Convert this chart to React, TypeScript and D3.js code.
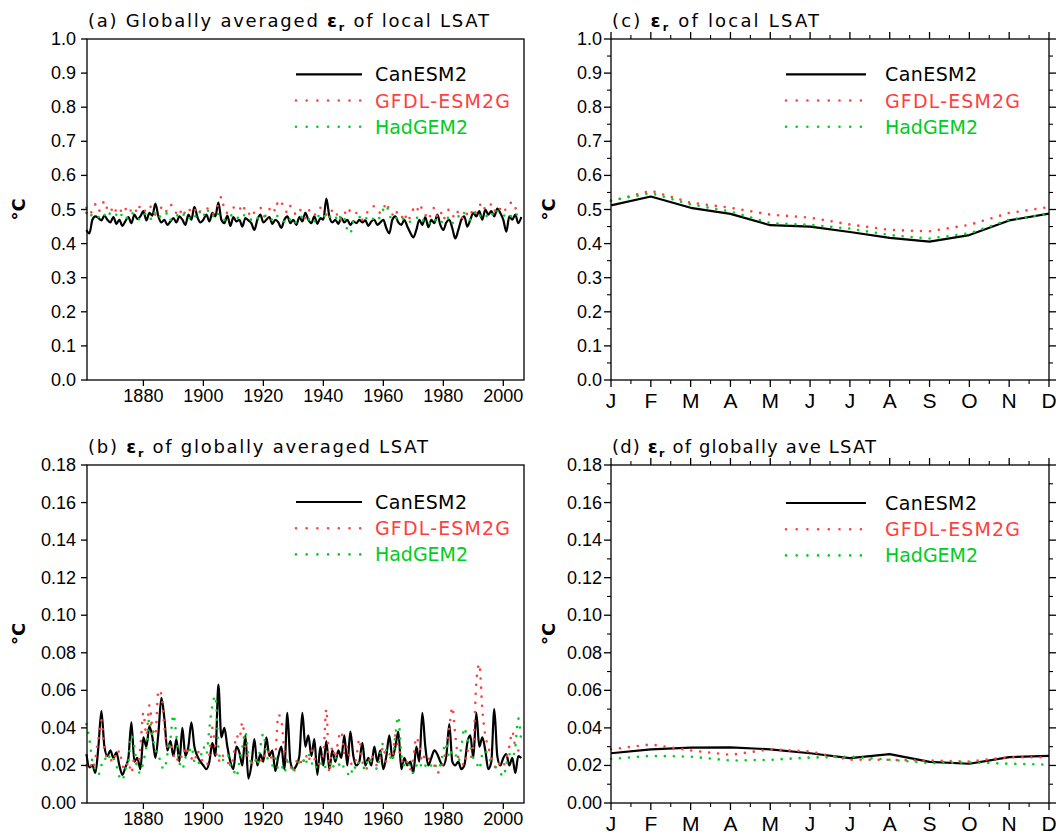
import React from "react";
import * as d3 from "d3";

const YEARS = d3.range(1861, 2007);
const MONTHS = ["J", "F", "M", "A", "M", "J", "J", "A", "S", "O", "N", "D"];
const SERIES_NAMES = ["CanESM2", "GFDL-ESM2G", "HadGEM2"];
const COLORS = ["#000000", "#ff3f3f", "#00cc22"];
const YEAR_TICKS = [1880, 1900, 1920, 1940, 1960, 1980, 2000];

// (a) Globally averaged eps_r of local LSAT (annual, 1861-2006)
const A_CAN = [
  0.440, 0.430, 0.470, 0.480, 0.475, 0.468, 0.482, 0.470, 0.462, 0.478,
  0.458, 0.470, 0.452, 0.466, 0.478, 0.460, 0.485, 0.472, 0.480, 0.495,
  0.468, 0.490, 0.482, 0.517, 0.480, 0.462, 0.470, 0.455, 0.465, 0.475,
  0.462, 0.480, 0.470, 0.455, 0.485, 0.470, 0.508, 0.478, 0.462, 0.470,
  0.485, 0.465, 0.490, 0.480, 0.520, 0.470, 0.460, 0.482, 0.452, 0.478,
  0.465, 0.470, 0.450, 0.475, 0.468, 0.460, 0.440, 0.470, 0.485, 0.462,
  0.470, 0.478, 0.458, 0.470, 0.462, 0.446, 0.470, 0.480, 0.460, 0.470,
  0.455, 0.478, 0.465, 0.490, 0.470, 0.460, 0.480, 0.458, 0.475, 0.470,
  0.532, 0.480, 0.462, 0.470, 0.458, 0.475, 0.462, 0.470, 0.455, 0.465,
  0.460, 0.470, 0.462, 0.468, 0.452, 0.465, 0.470, 0.455, 0.462, 0.470,
  0.445, 0.430, 0.470, 0.480, 0.462, 0.455, 0.470, 0.450, 0.432, 0.418,
  0.440, 0.470, 0.455, 0.478, 0.448, 0.470, 0.460, 0.485, 0.455, 0.440,
  0.462, 0.470, 0.445, 0.415, 0.440, 0.470, 0.480, 0.450, 0.470, 0.490,
  0.480, 0.495, 0.470, 0.500, 0.485, 0.495, 0.480, 0.503, 0.490, 0.470,
  0.435, 0.480, 0.470, 0.485, 0.460, 0.478,
];
const A_GFDL = [
  0.490, 0.480, 0.500, 0.515, 0.495, 0.505, 0.525, 0.500, 0.492, 0.510,
  0.495, 0.505, 0.488, 0.500, 0.510, 0.495, 0.505, 0.490, 0.512, 0.500,
  0.495, 0.510, 0.500, 0.485, 0.495, 0.505, 0.490, 0.500, 0.515, 0.500,
  0.490, 0.502, 0.480, 0.495, 0.505, 0.490, 0.500, 0.485, 0.495, 0.500,
  0.505, 0.495, 0.485, 0.500, 0.515, 0.537, 0.500, 0.490, 0.495, 0.505,
  0.510, 0.500, 0.515, 0.495, 0.485, 0.500, 0.490, 0.495, 0.505, 0.490,
  0.480, 0.500, 0.510, 0.495, 0.527, 0.520, 0.505, 0.490, 0.510, 0.495,
  0.485, 0.500, 0.490, 0.475, 0.495, 0.500, 0.485, 0.490, 0.505, 0.495,
  0.485, 0.500, 0.495, 0.480, 0.490, 0.470, 0.485, 0.505, 0.495, 0.500,
  0.490, 0.480, 0.470, 0.485, 0.495, 0.505, 0.510, 0.500, 0.490, 0.500,
  0.520, 0.495, 0.485, 0.500, 0.480, 0.475, 0.490, 0.465, 0.480, 0.500,
  0.490, 0.515, 0.500, 0.485, 0.470, 0.490, 0.505, 0.480, 0.495, 0.470,
  0.490, 0.500, 0.485, 0.475, 0.495, 0.480, 0.470, 0.490, 0.500, 0.480,
  0.495, 0.510, 0.520, 0.500, 0.505, 0.515, 0.495, 0.510, 0.500, 0.490,
  0.505, 0.515, 0.522, 0.505, 0.490, 0.495,
];
const A_HAD = [
  0.505, 0.495, 0.480, 0.485, 0.478, 0.490, 0.485, 0.475, 0.490, 0.480,
  0.485, 0.495, 0.478, 0.470, 0.485, 0.492, 0.480, 0.475, 0.470, 0.480,
  0.490, 0.478, 0.470, 0.495, 0.485, 0.475, 0.480, 0.490, 0.470, 0.480,
  0.485, 0.475, 0.480, 0.490, 0.478, 0.470, 0.482, 0.475, 0.495, 0.480,
  0.502, 0.490, 0.478, 0.495, 0.485, 0.480, 0.470, 0.478, 0.485, 0.475,
  0.480, 0.470, 0.478, 0.485, 0.475, 0.470, 0.480, 0.475, 0.468, 0.478,
  0.482, 0.475, 0.470, 0.485, 0.478, 0.470, 0.465, 0.478, 0.470, 0.475,
  0.460, 0.470, 0.480, 0.475, 0.470, 0.478, 0.465, 0.485, 0.472, 0.475,
  0.490, 0.480, 0.470, 0.478, 0.465, 0.485, 0.475, 0.440, 0.430, 0.465,
  0.470, 0.478, 0.468, 0.475, 0.470, 0.465, 0.478, 0.470, 0.480, 0.500,
  0.512, 0.485, 0.470, 0.478, 0.468, 0.475, 0.470, 0.460, 0.465, 0.470,
  0.478, 0.465, 0.470, 0.460, 0.455, 0.470, 0.465, 0.475, 0.468, 0.460,
  0.470, 0.478, 0.460, 0.470, 0.480, 0.475, 0.490, 0.478, 0.470, 0.485,
  0.495, 0.480, 0.490, 0.485, 0.478, 0.490, 0.480, 0.495, 0.488, 0.480,
  0.490, 0.485, 0.478, 0.490, 0.480, 0.485,
];

// (b) eps_r of globally averaged LSAT (annual, 1861-2006)
const B_CAN = [
  0.026, 0.019, 0.020, 0.016, 0.030, 0.049, 0.030, 0.025, 0.028, 0.024,
  0.027, 0.020, 0.015, 0.019, 0.024, 0.043, 0.022, 0.024, 0.018, 0.035,
  0.030, 0.041, 0.035, 0.024, 0.037, 0.056, 0.045, 0.028, 0.033, 0.025,
  0.034, 0.022, 0.040, 0.025, 0.030, 0.043, 0.030, 0.025, 0.022, 0.020,
  0.018, 0.022, 0.032, 0.025, 0.063, 0.035, 0.040, 0.030, 0.022, 0.018,
  0.030, 0.027, 0.020, 0.036, 0.013, 0.020, 0.034, 0.020, 0.026, 0.022,
  0.035, 0.025, 0.028, 0.017, 0.025, 0.030, 0.018, 0.048, 0.022, 0.018,
  0.020, 0.025, 0.048, 0.030, 0.036, 0.025, 0.034, 0.015, 0.030, 0.020,
  0.033, 0.018, 0.028, 0.022, 0.028, 0.024, 0.036, 0.020, 0.038, 0.025,
  0.020, 0.022, 0.032, 0.020, 0.024, 0.020, 0.030, 0.022, 0.028, 0.018,
  0.025, 0.036, 0.024, 0.030, 0.038, 0.018, 0.024, 0.020, 0.022, 0.016,
  0.030, 0.022, 0.048, 0.030, 0.020, 0.024, 0.028, 0.026, 0.022, 0.020,
  0.025, 0.042, 0.022, 0.020, 0.022, 0.018, 0.020, 0.032, 0.036, 0.024,
  0.048, 0.030, 0.035, 0.028, 0.018, 0.022, 0.050, 0.025, 0.020, 0.024,
  0.026, 0.020, 0.024, 0.016, 0.025, 0.024,
];
const B_GFDL = [
  0.020, 0.022, 0.018, 0.024, 0.034, 0.044, 0.028, 0.024, 0.022, 0.026,
  0.024, 0.028, 0.020, 0.018, 0.022, 0.016, 0.024, 0.020, 0.030, 0.048,
  0.036, 0.052, 0.040, 0.036, 0.060, 0.058, 0.040, 0.030, 0.032, 0.026,
  0.022, 0.026, 0.024, 0.030, 0.026, 0.024, 0.022, 0.028, 0.024, 0.022,
  0.020, 0.026, 0.040, 0.030, 0.022, 0.026, 0.024, 0.022, 0.020, 0.024,
  0.036, 0.034, 0.043, 0.030, 0.024, 0.022, 0.020, 0.024, 0.022, 0.026,
  0.024, 0.028, 0.022, 0.026, 0.047, 0.044, 0.028, 0.022, 0.020, 0.016,
  0.022, 0.024, 0.020, 0.026, 0.022, 0.028, 0.024, 0.020, 0.022, 0.026,
  0.050, 0.016, 0.030, 0.024, 0.034, 0.038, 0.026, 0.030, 0.022, 0.020,
  0.024, 0.034, 0.022, 0.018, 0.020, 0.026, 0.022, 0.020, 0.024, 0.030,
  0.022, 0.026, 0.024, 0.036, 0.030, 0.024, 0.020, 0.022, 0.018, 0.024,
  0.035, 0.030, 0.022, 0.026, 0.024, 0.022, 0.020, 0.016, 0.018, 0.022,
  0.030, 0.040, 0.051, 0.036, 0.024, 0.022, 0.020, 0.028, 0.024, 0.030,
  0.064, 0.074, 0.050, 0.036, 0.030, 0.024, 0.020, 0.018, 0.022, 0.020,
  0.024, 0.030, 0.038, 0.030, 0.028, 0.025,
];
const B_HAD = [
  0.042, 0.034, 0.022, 0.018, 0.015, 0.020, 0.024, 0.022, 0.026, 0.024,
  0.020, 0.014, 0.012, 0.018, 0.022, 0.036, 0.030, 0.018, 0.016, 0.022,
  0.030, 0.045, 0.036, 0.028, 0.026, 0.020, 0.018, 0.026, 0.034, 0.047,
  0.036, 0.022, 0.018, 0.024, 0.026, 0.030, 0.022, 0.020, 0.024, 0.030,
  0.026, 0.040, 0.052, 0.057, 0.030, 0.022, 0.024, 0.026, 0.020, 0.018,
  0.014, 0.022, 0.030, 0.038, 0.026, 0.022, 0.024, 0.020, 0.030, 0.037,
  0.026, 0.022, 0.020, 0.024, 0.018, 0.020, 0.016, 0.022, 0.020, 0.018,
  0.020, 0.022, 0.024, 0.020, 0.026, 0.022, 0.018, 0.020, 0.022, 0.018,
  0.020, 0.022, 0.018, 0.024, 0.020, 0.022, 0.018, 0.016, 0.014, 0.020,
  0.018, 0.022, 0.020, 0.018, 0.024, 0.022, 0.020, 0.018, 0.026, 0.032,
  0.028, 0.026, 0.022, 0.036, 0.046, 0.026, 0.020, 0.022, 0.018, 0.016,
  0.020, 0.018, 0.022, 0.020, 0.018, 0.020, 0.018, 0.022, 0.020, 0.028,
  0.032, 0.024, 0.028, 0.026, 0.022, 0.030, 0.040, 0.034, 0.030, 0.024,
  0.022, 0.018, 0.026, 0.028, 0.024, 0.022, 0.020, 0.018, 0.016, 0.014,
  0.020, 0.026, 0.024, 0.030, 0.045, 0.032,
];

// (c) eps_r of local LSAT, monthly climatology
const C_CAN = [0.512, 0.538, 0.505, 0.487, 0.454, 0.450, 0.434, 0.417, 0.406, 0.425, 0.468, 0.488];
const C_GFDL = [0.525, 0.555, 0.520, 0.505, 0.485, 0.476, 0.456, 0.440, 0.436, 0.455, 0.490, 0.507];
const C_HAD = [0.526, 0.548, 0.515, 0.494, 0.460, 0.455, 0.444, 0.425, 0.415, 0.430, 0.470, 0.487];

// (d) eps_r of globally averaged LSAT, monthly climatology
const D_CAN = [0.0265, 0.0286, 0.0295, 0.0296, 0.0286, 0.0265, 0.0239, 0.0260, 0.0219, 0.0209, 0.0244, 0.0251];
const D_GFDL = [0.0286, 0.0312, 0.0280, 0.0256, 0.0286, 0.0274, 0.0230, 0.0230, 0.0226, 0.0221, 0.0244, 0.0244];
const D_HAD = [0.0235, 0.0251, 0.0247, 0.0226, 0.0230, 0.0242, 0.0247, 0.0230, 0.0212, 0.0216, 0.0209, 0.0204];

const TICK_FONT = "'Liberation Sans', Arial, sans-serif";
const TITLE_FONT = "'DejaVu Sans', sans-serif";

type PanelProps = {
  x0: number; x1: number; y0: number; y1: number;
  kind: "years" | "months";
  yMax: number; yStep: number; yMinor?: number; fmt: string;
  label: string; rest: string; titleLen: number;
  series: number[][];
  legY: number; legX: number; legLen: number;
  ylabX: number;
  mirror: boolean;
};

function Panel(p: PanelProps) {
  const y = d3.scaleLinear().domain([0, p.yMax]).range([p.y1, p.y0]);
  const x =
    p.kind === "years"
      ? d3.scaleLinear().domain([1861.2, 2006.9]).range([p.x0, p.x1])
      : d3.scaleLinear().domain([0, 11]).range([p.x0, p.x1]);
  const xs = p.kind === "years" ? YEARS : d3.range(12);
  const line = d3
    .line<number>()
    .x((_, i) => x(xs[i]))
    .y((d) => y(d))
    .curve(p.kind === "years" ? d3.curveMonotoneX : d3.curveLinear);
  const nMaj = Math.round(p.yMax / p.yStep);
  const yMaj = d3.range(nMaj + 1).map((i) => +(i * p.yStep).toFixed(4));
  const yMin = p.yMinor
    ? d3.range(Math.round(p.yMax / p.yMinor) + 1).map((i) => i * p.yMinor!).filter((_, i) => i % 2 === 1)
    : [];
  const fmt = d3.format(p.fmt);
  const xMaj = p.kind === "years" ? YEAR_TICKS : d3.range(12);
  const xMin = p.kind === "months" ? d3.range(11).map((i) => i + 0.5) : [];
  const tk = p.mirror ? 7 : 6;
  const tkm = 4;
  const labEnd = p.mirror ? p.x0 - 9 : p.x0 - 11;
  const midY = (p.y0 + p.y1) / 2;
  return (
    <g>
      <text x={p.x0 + 1} y={p.y0 - 12} fontFamily={TITLE_FONT} fontSize={18} textLength={p.titleLen} lengthAdjust="spacing" fill="#000">
        {p.label + " "}
        <tspan fontWeight="bold">ε</tspan>
        <tspan fontWeight="bold" fontSize={11} dy={4}>r</tspan>
        <tspan dy={-4}>{" " + p.rest}</tspan>
      </text>
      <text transform={`translate(${p.ylabX},${midY}) rotate(-90)`} textAnchor="middle" dominantBaseline="central" fontFamily={TITLE_FONT} fontSize={18} fontWeight="bold" fill="#000">°C</text>
      {p.series.map((s, i) => (
        <path key={i} d={line(s) || ""} fill="none" stroke={COLORS[i]}
          strokeWidth={i === 0 ? 2.2 : 2.6}
          strokeDasharray={i === 0 ? undefined : "0 9"}
          strokeLinecap={i === 0 ? "butt" : "round"}
          strokeLinejoin="round" />
      ))}
      <rect x={p.x0} y={p.y0} width={p.x1 - p.x0} height={p.y1 - p.y0} fill="none" stroke="#000" strokeWidth={1.3} />
      {yMaj.map((v) => (
        <g key={"ym" + v}>
          <line x1={p.x0 - tk} x2={p.x0} y1={y(v)} y2={y(v)} stroke="#000" strokeWidth={1.3} />
          {p.mirror && <line x1={p.x1} x2={p.x1 + tk} y1={y(v)} y2={y(v)} stroke="#000" strokeWidth={1.3} />}
          <text x={labEnd} y={y(v)} textAnchor="end" dominantBaseline="central" fontFamily={TICK_FONT} fontSize={18} fill="#000">{fmt(v)}</text>
        </g>
      ))}
      {yMin.map((v) => (
        <g key={"yn" + v}>
          <line x1={p.x0 - tkm} x2={p.x0} y1={y(v)} y2={y(v)} stroke="#000" strokeWidth={1.1} />
          <line x1={p.x1} x2={p.x1 + tkm} y1={y(v)} y2={y(v)} stroke="#000" strokeWidth={1.1} />
        </g>
      ))}
      {xMaj.map((v) => (
        <g key={"xm" + v}>
          <line x1={x(v)} x2={x(v)} y1={p.y1} y2={p.y1 + tk} stroke="#000" strokeWidth={1.3} />
          {p.mirror && <line x1={x(v)} x2={x(v)} y1={p.y0 - tk} y2={p.y0} stroke="#000" strokeWidth={1.3} />}
          <text x={x(v)} y={p.y1 + (p.kind === "years" ? 22 : 28)} textAnchor="middle" fontFamily={TICK_FONT} fontSize={p.kind === "years" ? 18 : 21} fill="#000">
            {p.kind === "years" ? String(v) : MONTHS[v]}
          </text>
        </g>
      ))}
      {xMin.map((v) => (
        <g key={"xn" + v}>
          <line x1={x(v)} x2={x(v)} y1={p.y1} y2={p.y1 + tkm} stroke="#000" strokeWidth={1.1} />
          <line x1={x(v)} x2={x(v)} y1={p.y0 - tkm} y2={p.y0} stroke="#000" strokeWidth={1.1} />
        </g>
      ))}
      {SERIES_NAMES.map((n, i) => {
        const ly = p.legY + i * 26.2;
        return (
          <g key={n}>
            <line x1={p.legX} x2={p.legX + p.legLen} y1={ly} y2={ly} stroke={COLORS[i]}
              strokeWidth={i === 0 ? 2.2 : 2.6}
              strokeDasharray={i === 0 ? undefined : "0 10.7"}
              strokeLinecap={i === 0 ? "butt" : "round"} />
            <text x={p.legX + p.legLen + (p.mirror ? 19 : 13)} y={ly} dominantBaseline="central" fontFamily={TITLE_FONT} fontSize={19}
              textLength={i === 1 ? 135 : i === 0 ? 92 : 93} lengthAdjust="spacing" fill={COLORS[i]}>{n}</text>
          </g>
        );
      })}
    </g>
  );
}

export default function App() {
  return (
    <div style={{ position: "absolute", left: 0, top: 0, background: "#fff" }}>
      <svg width={1056} height={834} viewBox="0 0 1056 834" style={{ display: "block" }}>
        <rect width={1056} height={834} fill="#fff" />
        <Panel x0={87} x1={524} y0={39} y1={380} kind="years" yMax={1} yStep={0.1} fmt=".1f"
          label="(a) Globally averaged" rest="of local LSAT" titleLen={401}
          series={[A_CAN, A_GFDL, A_HAD]} legY={74.3} legX={296} legLen={66} ylabX={18} mirror={false} />
        <Panel x0={87} x1={524} y0={465} y1={803} kind="years" yMax={0.18} yStep={0.02} fmt=".2f"
          label="(b)" rest="of globally averaged LSAT" titleLen={340}
          series={[B_CAN, B_GFDL, B_HAD]} legY={502} legX={296} legLen={66} ylabX={18} mirror={false} />
        <Panel x0={611} x1={1049} y0={39} y1={380} kind="months" yMax={1} yStep={0.1} yMinor={0.05} fmt=".1f"
          label="(c)" rest="of local LSAT" titleLen={207}
          series={[C_CAN, C_GFDL, C_HAD]} legY={74.3} legX={786} legLen={80} ylabX={548} mirror={true} />
        <Panel x0={611} x1={1049} y0={465} y1={803} kind="months" yMax={0.18} yStep={0.02} yMinor={0.01} fmt=".2f"
          label="(d)" rest="of globally ave LSAT" titleLen={264}
          series={[D_CAN, D_GFDL, D_HAD]} legY={503} legX={786} legLen={80} ylabX={548} mirror={true} />
      </svg>
    </div>
  );
}
